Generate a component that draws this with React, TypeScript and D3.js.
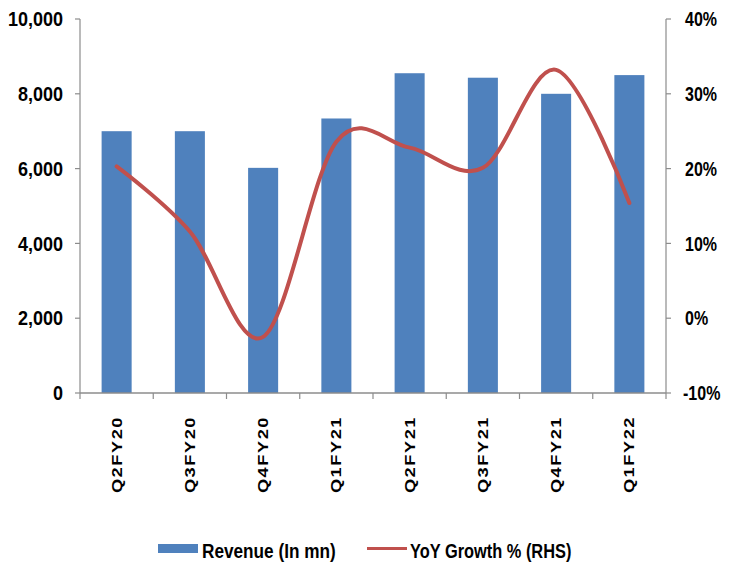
import React from "react";
import * as d3 from "d3";

const categories = ["Q2FY20", "Q3FY20", "Q4FY20", "Q1FY21", "Q2FY21", "Q3FY21", "Q4FY21", "Q1FY22"];
const revenue = [7000, 7000, 6020, 7340, 8550, 8430, 8000, 8500];
const yoyGrowth = [20.3, 11.6, -2.5, 23.6, 22.8, 20.1, 33.2, 15.4];
const leftTicks = [0, 2000, 4000, 6000, 8000, 10000];
const rightTicks = [-10, 0, 10, 20, 30, 40];

const W = 729;
const H = 567;
const M = { left: 80, right: 666, top: 19, bottom: 393 };
const FONT = "'Liberation Sans', Arial, sans-serif";
const AXIS = "#8c8c8c";
const SX = 0.86;

export default function App() {
  const x = d3.scaleBand<string>().domain(categories).range([M.left, M.right]).paddingInner(0.59).paddingOuter(0.295);
  const band = d3.scaleBand<string>().domain(categories).range([M.left, M.right]);
  const yL = d3.scaleLinear().domain([0, 10000]).range([M.bottom, M.top]);
  const yR = d3.scaleLinear().domain([-10, 40]).range([M.bottom, M.top]);
  const cx = (c: string) => band(c)! + band.bandwidth() / 2;
  const line = d3
    .line<number>()
    .x((_, i) => cx(categories[i]))
    .y((d) => yR(d))
    .curve(d3.curveCatmullRom.alpha(0));
  const fmt = d3.format(",");
  const boundaries = d3.range(categories.length + 1).map((i) => M.left + i * band.bandwidth());

  return (
    <svg width={W} height={H} style={{ position: "absolute", left: 0, top: 0, background: "#fff" }}>
      {categories.map((c, i) => (
        <rect key={c} x={x(c)} y={yL(revenue[i])} width={x.bandwidth()} height={yL(0) - yL(revenue[i])} fill="#4F81BD" />
      ))}
      <path d={line(yoyGrowth) || ""} fill="none" stroke="#C0504D" strokeWidth={4} strokeLinecap="round" />

      {/* left axis */}
      <line x1={M.left} x2={M.left} y1={M.top} y2={M.bottom} stroke={AXIS} strokeWidth={1.2} />
      {leftTicks.map((t) => (
        <g key={t}>
          <line x1={M.left - 5} x2={M.left} y1={yL(t)} y2={yL(t)} stroke={AXIS} strokeWidth={1.2} />
          <text
            transform={`translate(63,${yL(t)}) scale(0.9,1)`}
            dy="0.36em"
            textAnchor="end"
            fontFamily={FONT}
            fontWeight="bold"
            fontSize={20}
            fill="#000"
          >
            {fmt(t)}
          </text>
        </g>
      ))}

      {/* right axis */}
      <line x1={M.right} x2={M.right} y1={M.top} y2={M.bottom} stroke={AXIS} strokeWidth={1.2} />
      {rightTicks.map((t) => (
        <g key={t}>
          <line x1={M.right} x2={M.right + 5} y1={yR(t)} y2={yR(t)} stroke={AXIS} strokeWidth={1.2} />
          <text
            transform={`translate(${t < 0 ? 683 : 685},${yR(t)}) scale(0.8,1)`}
            dy="0.36em"
            textAnchor="start"
            fontFamily={FONT}
            fontWeight="bold"
            fontSize={20}
            fill="#000"
          >
            {t}%
          </text>
        </g>
      ))}

      {/* bottom axis */}
      <line x1={M.left} x2={M.right} y1={M.bottom} y2={M.bottom} stroke={AXIS} strokeWidth={1.5} />
      {boundaries.map((b, i) => (
        <line key={i} x1={b} x2={b} y1={M.bottom} y2={M.bottom + 6} stroke={AXIS} strokeWidth={1.2} />
      ))}
      {categories.map((c) => (
        <text
          key={c}
          transform={`translate(${cx(c) + 5},416) rotate(-90) scale(1.3,1)`}
          textAnchor="end"
          fontFamily={FONT}
          fontWeight="bold"
          fontSize={14}
          letterSpacing={1.2}
          fill="#000"
        >
          {c}
        </text>
      ))}

      {/* legend */}
      <rect x={158} y={544} width={40} height={9} fill="#4F81BD" />
      <text transform={`translate(202,558) scale(${SX},1)`} fontFamily={FONT} fontWeight="bold" fontSize={20} fill="#000">
        Revenue (In mn)
      </text>
      <line x1={367} x2={407} y1={548.5} y2={548.5} stroke="#C0504D" strokeWidth={3} />
      <text transform={`translate(410,558) scale(0.82,1)`} fontFamily={FONT} fontWeight="bold" fontSize={20} fill="#000">
        YoY Growth % (RHS)
      </text>
    </svg>
  );
}
